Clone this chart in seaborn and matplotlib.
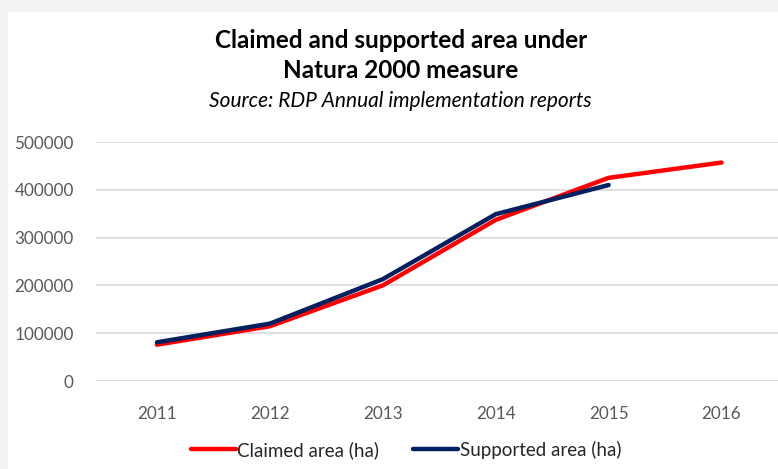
import pandas as pd
import seaborn as sns
import matplotlib.pyplot as plt
from matplotlib.patches import Rectangle
from matplotlib.lines import Line2D

years = ["2011", "2012", "2013", "2014", "2015", "2016"]
claimed = [76000, 114500, 200000, 337000, 425000, 457000]
supported = [81000, 120000, 213000, 349000, 410000]
yticks = [0, 100000, 200000, 300000, 400000, 500000]

df = pd.concat([
    pd.DataFrame({"year": years, "area": claimed, "series": "Claimed area (ha)"}),
    pd.DataFrame({"year": years[:len(supported)], "area": supported, "series": "Supported area (ha)"}),
])

sns.set_theme(style="white")
plt.rcParams["font.family"] = ["Lato", "DejaVu Sans"]

fig = plt.figure(figsize=(7.78, 4.69), dpi=100)
fig.patch.set_facecolor("#ececec")
# white chart card with a soft shadow on top/left
fig.patches.append(Rectangle((0.0, 0.0), 1.0, 1.0, transform=fig.transFigure,
                             facecolor="#f3f3f3", edgecolor="none", zorder=-2))
fig.patches.append(Rectangle((8 / 778, 0.0), 1.0, 1 - 12 / 469, transform=fig.transFigure,
                             facecolor="white", edgecolor="none", zorder=-1))

ax = fig.add_axes([96 / 778, 1 - 381 / 469, 1 - 96 / 778, (381 - 142) / 469])
ax.set_facecolor((0, 0, 0, 0))

colors = {"Claimed area (ha)": "#ff0000", "Supported area (ha)": "#002060"}
sns.lineplot(data=df, x="year", y="area", hue="series", palette=colors,
             linewidth=3.2, sort=False, ax=ax, legend=False,
             solid_capstyle="round")

ax.set_xlim(-0.54, 5.5)
ax.set_ylim(0, 500000)
ax.set_yticks(yticks)
ax.set_yticklabels([str(v) for v in yticks])
ax.yaxis.grid(True, color="#d9d9d9", linewidth=1.2)
ax.set_axisbelow(True)
for s in ax.spines.values():
    s.set_visible(False)
ax.tick_params(axis="both", length=0, labelsize=12.3, labelcolor="#595959")
ax.tick_params(axis="y", pad=16)
ax.tick_params(axis="x", pad=18)
ax.set_xlabel("")
ax.set_ylabel("")

fig.text(0.515, 1 - 40 / 469, "Claimed and supported area under", ha="center", va="center",
         fontsize=17.5, fontweight="bold", color="black")
fig.text(0.515, 1 - 71 / 469, "Natura 2000 measure", ha="center", va="center",
         fontsize=17.5, fontweight="bold", color="black")
fig.text(0.515, 1 - 101 / 469, "Source: RDP Annual implementation reports", ha="center",
         va="center", fontsize=15, fontstyle="italic", color="black")

handles = [Line2D([], [], color=c, linewidth=3.2, solid_capstyle="round") for c in colors.values()]
fig.legend(handles, list(colors.keys()), loc="center", bbox_to_anchor=(0.522, 1 - 450 / 469),
           ncol=2, frameon=False, fontsize=13.5, handlelength=2.4, handletextpad=0.1,
           columnspacing=1.8)

fig.savefig("out.png", dpi=100)
